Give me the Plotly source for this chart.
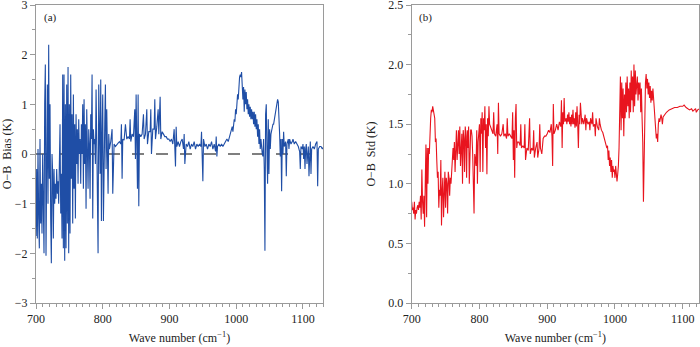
import plotly.graph_objects as go

# ---------------- data ----------------
bias_wn = [700,701,702,703,704,705,706,707,708,709,710,711,712,713,714,715,716,717,718,719,
           720,721,722,723,724,725,726,727,728,729,730,731,732,733,734,735,736,737,738,739,
           740,741,742,743,744,745,746,747,748,749,750,751,752,753,754,755,756,757,758,759,
           760,761,762,763,764,765,766,767,768,769,770,771,772,773,774,775,776,777,778,779,
           780,781,782,783,784,785,786,787,788,789,790,791,792,793,794,795,796,797,798,799,
           800,801,802,803,804,805,806,807,808,809,810,812,814,815,817,819,821,823,825,827,
           828,829,830,832,834,836,838,840,841,842,844,846,848,849,850,851,852,853,854,855,
           857,859,861,862,864,866,867,869,871,872,873,875,877,878,879,881,883,884,886,887,
           889,891,893,895,897,899,901,903,905,907,908,909,910,911,913,915,917,919,921,922,
           923,924,925,927,929,931,933,935,937,939,941,943,945,947,948,949,950,951,953,955,
           957,959,961,963,965,967,969,970,971,972,974,976,978,980,982,984,986,988,990,992,
           994,995,997,998,999,1000,1001,1002,1003,1004,1005,1006,1007,1008,1009,1010,1011,1012,1013,1014,
           1015,1016,1017,1018,1019,1020,1021,1022,1023,1024,1025,1026,1027,1028,1029,1030,1031,1032,1033,1034,
           1035,1036,1037,1038,1039,1040,1041,1042,1043,1044,1045,1046,1047,1048,1049,1050,1051,1052,1053,1054,
           1055,1056,1057,1058,1059,1060,1061,1062,1063,1064,1065,1066,1067,1068,1069,1070,1071,1072,1074,1075,
           1076,1078,1079,1080,1082,1084,1085,1087,1089,1091,1093,1095,1096,1097,1099,1100,1101,1102,1103,1104,
           1105,1106,1107,1108,1109,1110,1111,1112,1113,1115,1117,1119,1121,1122,1123,1125,1127,1129,1131]
bias_val = [-1.65,-0.3,-1.7,0.1,-1.3,-1.9,0.3,-1.4,-0.6,-1.6,0.0,-1.2,-2.0,1.0,1.8,-2.05,0.6,1.4,-1.0,2.2,
            -0.5,1.0,-1.3,-2.2,0.0,-0.4,-1.7,-0.3,-1.0,-0.6,-0.9,-0.3,-0.8,-0.55,-1.0,-0.3,0.6,-1.2,-0.4,-1.7,
            1.6,-1.9,1.6,-2.15,1.0,-1.9,1.4,-1.4,1.75,-2.0,1.0,-1.6,1.6,-0.5,0.8,-1.4,1.2,-0.7,0.6,-1.3,
            0.8,-0.2,0.5,-0.6,0.7,0.0,0.3,-0.6,0.6,0.0,1.0,-0.7,1.1,-0.2,0.6,-1.1,0.9,0.1,-0.7,0.5,
            0.2,-0.9,0.8,0.3,1.6,-1.3,0.5,0.2,0.3,-0.2,1.3,0.3,-0.5,-2.0,1.4,0.1,-0.4,1.5,-1.35,0.4,
            1.2,-1.35,0.3,0.6,1.4,-0.3,0.9,0.2,-0.8,0.4,0.1,0.25,0.5,-0.8,0.2,0.15,0.2,0.22,0.25,0.2,
            0.6,-0.5,0.3,0.28,0.6,0.3,0.35,0.3,0.7,0.25,0.4,0.35,0.9,-0.1,1.2,0.2,-0.7,1.2,-1.05,0.4,
            0.35,0.4,0.8,0.3,0.4,0.9,0.2,0.45,0.45,0.9,0.0,0.5,0.5,1.1,0.3,0.55,0.9,0.4,1.15,0.3,
            0.45,0.4,0.35,0.35,0.3,0.3,0.25,0.3,0.2,0.5,0.2,-0.25,0.55,0.15,0.25,0.15,0.25,0.3,0.1,0.4,
            -0.2,0.1,0.2,0.15,0.25,0.1,0.2,0.15,0.25,0.1,0.2,0.15,0.2,0.15,0.45,-0.05,-0.55,0.3,0.15,0.2,
            0.1,0.2,0.15,0.25,0.1,0.2,0.05,0.35,-0.05,0.15,0.2,0.15,0.2,0.15,0.2,0.25,0.3,0.25,0.35,0.4,
            0.55,0.45,0.7,0.65,0.9,0.8,1.0,1.2,1.1,1.5,1.55,1.6,1.55,1.65,1.4,1.1,1.35,0.85,1.3,1.0,
            1.25,0.9,1.1,0.8,1.0,0.75,0.95,0.7,0.9,0.7,0.85,0.6,0.85,0.55,0.8,0.5,0.7,0.35,0.6,0.2,
            0.5,0.1,0.3,0.05,0.0,-0.05,0.3,-0.3,-1.95,0.8,1.0,0.1,-0.6,0.7,-0.4,0.5,0.1,0.4,0.5,0.5,
            0.6,0.6,0.7,0.75,0.8,0.9,1.0,1.1,1.05,0.8,0.4,-0.05,0.3,-0.75,0.3,0.0,0.45,0.15,0.25,-0.45,
            0.2,0.3,0.1,0.3,0.2,0.25,0.3,0.2,0.25,0.2,0.15,0.05,-0.3,0.15,0.1,0.2,-0.1,0.15,-0.3,0.1,
            0.2,-0.2,0.1,0.15,-0.45,0.1,0.25,-0.4,0.1,0.15,0.1,0.2,0.25,-0.65,0.1,0.15,0.15,0.1,0.15]

std_wn = [700,701,702,703,704,705,706,707,708,709,710,711,712,713,714,715,716,717,718,719,
          720,721,722,723,724,725,726,727,728,729,730,731,732,733,734,735,736,737,738,739,
          740,741,742,743,744,745,746,747,748,749,750,751,752,753,754,755,756,757,758,759,
          760,761,762,763,764,765,766,767,768,769,770,771,772,773,774,775,776,777,778,779,
          780,781,782,783,784,785,786,787,788,789,790,791,792,793,794,795,796,797,798,799,
          800,801,802,803,804,805,806,807,808,809,810,811,812,813,814,815,816,818,820,821,
          822,824,826,827,828,829,831,833,835,836,838,840,841,842,844,846,848,849,850,851,
          852,853,854,855,856,858,860,861,862,864,866,867,868,870,872,874,875,877,879,880,
          881,883,885,886,888,889,890,892,894,896,898,900,902,904,906,907,908,909,910,912,
          914,916,918,920,921,922,923,924,925,926,928,929,930,931,932,933,934,935,936,937,
          938,939,940,941,942,943,944,945,946,947,948,949,950,951,952,954,956,957,958,960,
          962,963,964,966,967,968,970,971,972,974,976,977,978,980,982,984,986,988,989,990,
          991,992,993,994,995,996,997,998,999,1000,1001,1002,1003,1004,1005,1006,1007,1008,1009,1010,
          1011,1012,1013,1014,1015,1016,1017,1018,1019,1020,1021,1022,1023,1024,1025,1026,1027,1028,1029,1030,
          1031,1032,1033,1034,1035,1036,1037,1038,1039,1040,1041,1042,1043,1044,1045,1046,1047,1048,1049,1050,
          1051,1052,1053,1054,1055,1056,1057,1058,1059,1060,1061,1062,1063,1064,1065,1066,1067,1068,1069,1070,
          1071,1073,1076,1080,1084,1088,1092,1096,1100,1102,1105,1108,1110,1113,1115,1117,1119,1120,1122,1125,
          1128,1131]
std_val = [0.85,0.78,0.8,0.75,0.85,0.7,0.78,0.75,0.8,0.82,0.78,0.85,0.8,0.9,0.7,1.12,0.85,0.75,0.9,0.64,
           1.0,1.33,0.72,1.3,1.0,1.3,1.25,1.45,1.55,1.62,1.6,1.65,1.62,1.6,1.55,1.35,1.38,1.2,1.05,1.1,
           0.8,0.95,0.9,1.2,0.65,0.95,1.05,0.72,0.9,1.1,0.8,1.05,1.0,0.75,1.1,1.05,0.9,1.05,1.0,1.1,
           1.15,1.3,1.2,1.35,1.1,1.35,1.45,1.2,1.3,1.45,1.25,1.48,1.15,1.35,1.42,1.0,1.45,1.38,1.1,1.48,
           1.4,1.05,1.45,1.3,1.48,1.0,1.4,1.45,1.45,1.4,1.25,1.05,0.75,1.25,1.2,1.15,1.45,1.0,1.35,1.42,
           1.5,1.1,1.55,1.42,1.6,1.1,1.55,1.45,1.65,1.3,1.5,1.08,1.55,1.4,1.65,1.5,1.48,1.45,1.42,1.6,
           1.42,1.4,1.5,1.25,1.68,1.42,1.4,1.42,1.5,1.4,1.42,1.38,1.55,1.4,1.42,1.4,1.38,1.6,1.2,1.45,
           1.05,1.55,1.67,1.3,1.35,1.35,1.32,1.5,1.3,1.32,1.3,1.5,1.2,1.3,1.28,1.55,1.25,1.3,1.28,1.45,
           1.22,1.3,1.35,1.22,1.3,1.5,1.3,1.25,1.38,1.4,1.4,1.42,1.45,1.43,1.5,1.4,1.15,1.67,1.42,1.45,
           1.5,1.45,1.52,1.48,1.7,1.3,1.6,1.5,1.72,1.52,1.55,1.5,1.58,1.52,1.6,1.5,1.56,1.48,1.58,1.5,
           1.62,1.5,1.55,1.47,1.6,1.48,1.65,1.5,1.3,1.58,1.5,1.68,1.52,1.5,1.55,1.5,1.58,1.45,1.55,1.5,
           1.52,1.45,1.55,1.5,1.6,1.48,1.5,1.4,1.55,1.48,1.45,1.55,1.5,1.45,1.43,1.38,1.35,1.3,1.32,1.2,
           1.28,1.15,1.22,1.1,1.2,1.05,1.15,1.1,1.12,1.05,1.15,1.1,1.02,1.08,1.15,1.3,1.5,1.9,1.45,1.85,
           1.55,1.8,1.4,1.75,1.55,1.85,1.6,1.9,1.65,1.8,1.55,1.85,1.6,1.95,1.7,1.9,1.6,2.0,1.65,1.95,
           1.75,1.85,1.9,1.7,1.85,1.75,1.85,1.6,1.8,1.55,1.35,0.85,1.3,1.75,1.85,1.92,1.8,1.88,1.75,1.85,
           1.72,1.82,1.68,1.78,1.7,1.8,1.72,1.6,1.55,1.45,1.38,1.42,1.35,1.5,1.55,1.52,1.55,1.58,1.55,1.5,
           1.56,1.58,1.6,1.62,1.63,1.64,1.64,1.65,1.65,1.66,1.64,1.63,1.62,1.63,1.61,1.62,1.63,1.6,1.62,1.63,
           1.64,1.64]

zero_x = [700, 1130]
zero_y = [0, 0]

x_ticks = [700, 800, 900, 1000, 1100]
bias_ticks = [-3, -2, -1, 0, 1, 2, 3]
std_ticks = [0.0, 0.5, 1.0, 1.5, 2.0, 2.5]
std_tick_text = ["0.0", "0.5", "1.0", "1.5", "2.0", "2.5"]
bias_tick_text = ["\u22123", "\u22122", "\u22121", "0", "1", "2", "3"]

# ---------------- figure ----------------
FONT = "Liberation Serif, Times New Roman, serif"
AXC = "#9a9a9a"
TXT = "#222222"

fig = go.Figure()
fig.add_trace(go.Scatter(x=zero_x, y=zero_y, mode="lines",
                         line=dict(color="#555555", width=1.5, dash="12px,12px"),
                         xaxis="x", yaxis="y", showlegend=False, hoverinfo="skip"))
fig.add_trace(go.Scatter(x=bias_wn, y=bias_val, mode="lines",
                         line=dict(color="#1f4ea6", width=1.1),
                         xaxis="x", yaxis="y", showlegend=False))
fig.add_trace(go.Scatter(x=std_wn, y=std_val, mode="lines",
                         line=dict(color="#e8141e", width=1.1),
                         xaxis="x2", yaxis="y2", showlegend=False))

W, H = 700, 347
ml, mr, mt, mb = 36, 1, 5, 44
pw = W - ml - mr
d1 = [0, 287 / pw]
d2 = [(411.7 - ml) / pw, 1]

xcommon = dict(showline=True, linecolor=AXC, linewidth=1, mirror=True, automargin=False,
               ticks="outside", ticklen=5, tickcolor=AXC, tickwidth=1,
               tickvals=x_ticks, showgrid=False, zeroline=False,
               ticklabeloverflow="allow",
               tickfont=dict(family=FONT, size=12, color=TXT),
               minor=dict(dtick=10, ticks="outside", ticklen=3, tickcolor=AXC, showgrid=False),
               title=dict(text="Wave number (cm<sup>\u22121</sup>)",
                          font=dict(family=FONT, size=12, color=TXT), standoff=8))
ycommon = dict(showline=True, linecolor=AXC, linewidth=1, mirror=True, automargin=False,
               ticks="outside", ticklen=5, tickcolor=AXC, tickwidth=1,
               showgrid=False, zeroline=False, ticklabeloverflow="allow",
               tickfont=dict(family=FONT, size=12, color=TXT))

fig.update_layout(
    width=W, height=H,
    margin=dict(l=ml, r=mr, t=mt, b=mb, autoexpand=False),
    paper_bgcolor="white", plot_bgcolor="white",
    xaxis=dict(domain=d1, range=[700, 1130], anchor="y", **xcommon),
    xaxis2=dict(domain=d2, range=[700, 1124], anchor="y2", **xcommon),
    yaxis=dict(domain=[0, 1], range=[-3, 3], anchor="x", tickvals=bias_ticks,
               ticktext=bias_tick_text,
               minor=dict(dtick=0.5, ticks="outside", ticklen=3, tickcolor=AXC, showgrid=False),
               title=dict(text="O\u2212B  Bias (K)", font=dict(family=FONT, size=12, color=TXT),
                          standoff=10),
               **ycommon),
    yaxis2=dict(domain=[0, 1], range=[0, 2.5], anchor="x2", tickvals=std_ticks,
                ticktext=std_tick_text,
                minor=dict(dtick=0.25, ticks="outside", ticklen=3, tickcolor=AXC, showgrid=False),
                title=dict(text="O\u2212B  Std (K)", font=dict(family=FONT, size=12, color=TXT),
                           standoff=10),
                **ycommon),
    annotations=[
        dict(text="(a)", xref="x domain", yref="y domain", x=0.02, y=0.985,
             xanchor="left", yanchor="top", showarrow=False,
             font=dict(family=FONT, size=11, color=TXT)),
        dict(text="(b)", xref="x2 domain", yref="y2 domain", x=0.02, y=0.985,
             xanchor="left", yanchor="top", showarrow=False,
             font=dict(family=FONT, size=11, color=TXT)),
    ],
)

fig.write_html("out.html", config={"displayModeBar": False},
               post_script="document.body.style.margin='0';document.body.style.padding='0';")
